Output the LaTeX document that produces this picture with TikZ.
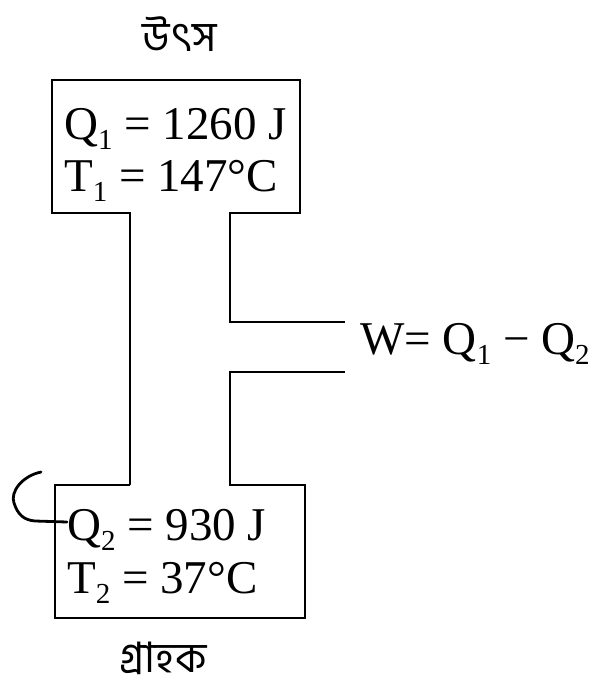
\documentclass[tikz,border=0pt]{standalone}
\usepackage{fontspec}
\setmainfont{Liberation Serif}
\newfontfamily\bnfont[Script=Bengali]{Hind Siliguri}
\newcommand\lowsub[1]{\raisebox{-0.22em}{\fontsize{29}{29}\selectfont #1}}
\begin{document}
\begin{tikzpicture}[x=1pt,y=-1pt,
  outline/.style={line width=2.3pt, line join=miter},
  val/.style={anchor=base west, inner sep=0pt, font=\fontsize{47}{47}\selectfont},
  bn/.style={anchor=base, inner sep=0pt, font=\bnfont\fontsize{42}{42}\selectfont}]
\useasboundingbox (0,0) rectangle (590,685);
% engine outline
\draw[outline] (130,485) -- (130,213) -- (52,213) -- (52,80) -- (300,80) -- (300,213) -- (230,213) -- (230,322) -- (345,322);
\draw[outline] (345,372) -- (230,372) -- (230,485) -- (305,485) -- (305,618) -- (55,618) -- (55,485) -- (130,485);
% labels
\node[bn] (src) at (180,52) {উৎস};
\node[bn] (snk) at (163,672) {গ্রাহক};
\node[val] (q1) at (64,139) {Q\lowsub{1} = 1260 J};
\node[val] (t1) at (64,191) {T\lowsub{1} = 147°C};
\node[val] (q2) at (67,540) {Q\lowsub{2} = 930 J};
\node[val] (t2) at (67,593) {T\lowsub{2} = 37°C};
\node[val] (w) at (360,354) {W= Q\lowsub{1} − Q\lowsub{2}};
% curl
\coordinate (c0) at (41,472);
\draw[line width=2.8pt, line cap=round] (c0) .. controls (22,476) and (10,492) .. (14,503) .. controls (18,515) and (24,520) .. (35,521) -- (q2.base west |- 0,522);
\end{tikzpicture}
\end{document}
